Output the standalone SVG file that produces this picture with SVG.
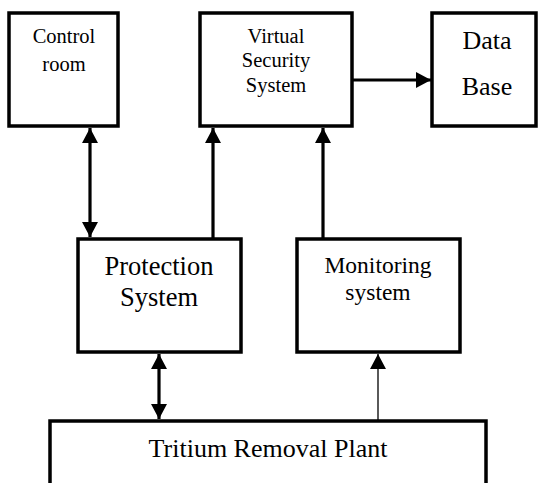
<svg xmlns="http://www.w3.org/2000/svg" width="539" height="483" viewBox="0 0 539 483">
<style>
.box{fill:#fff;stroke:#000;stroke-width:3.5}
.t{font-family:"Liberation Serif","Times New Roman",serif;fill:#000;text-anchor:middle}
.c{stroke:#000;stroke-width:3.2;fill:none}
.thin{stroke:#000;stroke-width:1.3;fill:none}
</style>
<defs>
<marker id="ah" markerUnits="userSpaceOnUse" markerWidth="15" markerHeight="16" refX="15" refY="8" orient="auto-start-reverse" viewBox="0 0 15 16">
<path d="M0,0 L15,8 L0,16 z" fill="#000"/>
</marker>
</defs>
<rect width="539" height="483" fill="#fff"/>
<g id="control-room">
<rect class="box" x="9" y="13" width="109" height="113"/>
<text class="t" x="64" y="43" font-size="20.5">Control</text>
<text class="t" x="64" y="71" font-size="20.5">room</text>
</g>
<g id="virtual-security-system">
<rect class="box" x="200" y="13" width="152" height="113"/>
<text class="t" x="276" y="43" font-size="20.5">Virtual</text>
<text class="t" x="276" y="67" font-size="20.5">Security</text>
<text class="t" x="276" y="92" font-size="20.5">System</text>
</g>
<g id="data-base">
<rect class="box" x="432" y="13" width="104" height="113"/>
<text class="t" x="487" y="49" font-size="26">Data</text>
<text class="t" x="487" y="95" font-size="26">Base</text>
</g>
<g id="protection-system">
<rect class="box" x="78" y="239" width="163" height="113"/>
<text class="t" x="159" y="275" font-size="26.5">Protection</text>
<text class="t" x="159" y="306" font-size="26.5">System</text>
</g>
<g id="monitoring-system">
<rect class="box" x="297" y="239" width="163" height="113"/>
<text class="t" x="378" y="273" font-size="23.5">Monitoring</text>
<text class="t" x="378" y="300" font-size="23.5">system</text>
</g>
<g id="tritium-removal-plant">
<rect class="box" x="50" y="421" width="436" height="90"/>
<text class="t" x="268" y="457" font-size="26">Tritium Removal Plant</text>
</g>
<g id="connectors">
<line class="c" x1="90" y1="128" x2="90" y2="237" marker-start="url(#ah)" marker-end="url(#ah)"/>
<line class="c" x1="213" y1="239" x2="213" y2="128" marker-end="url(#ah)"/>
<line class="c" x1="323" y1="239" x2="323" y2="128" marker-end="url(#ah)"/>
<line class="c" x1="352" y1="80" x2="431" y2="80" marker-end="url(#ah)"/>
<line class="c" x1="159" y1="354" x2="159" y2="419" marker-start="url(#ah)" marker-end="url(#ah)"/>
<line class="thin" x1="378" y1="421" x2="378" y2="354" marker-end="url(#ah)"/>
</g>
</svg>
